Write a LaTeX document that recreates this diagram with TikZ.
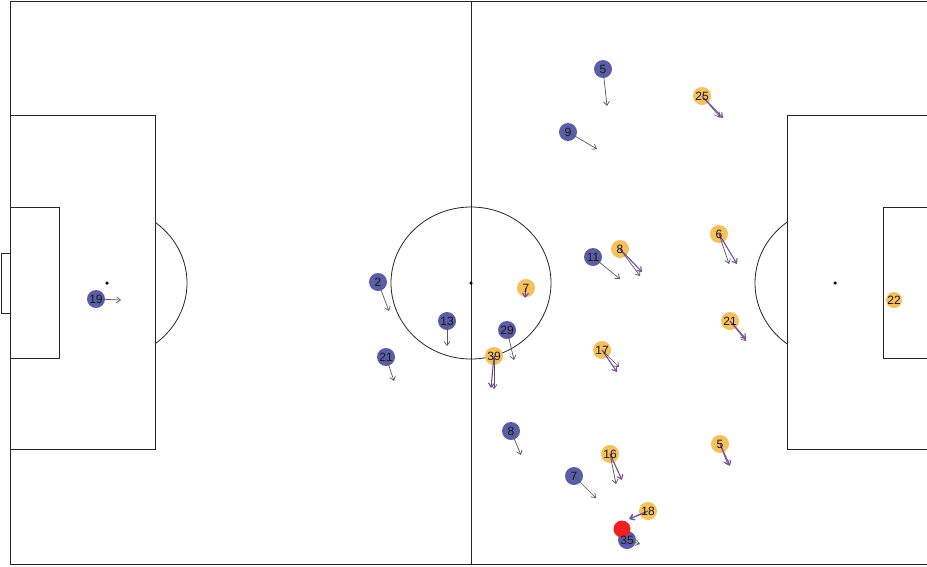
\documentclass[tikz,border=0pt]{standalone}
\usepackage{fontspec}
\setmainfont{Liberation Sans}
\usetikzlibrary{arrows.meta}
\definecolor{homeblue}{HTML}{5A5DA8}
\definecolor{awayyellow}{HTML}{F6C15D}
\definecolor{ballred}{HTML}{EE2020}
\definecolor{runpurple}{HTML}{7A4A9E}
\tikzset{
  pitchline/.style={draw=black!85, line width=0.8pt},
  pitchspot/.style={circle, fill=black, inner sep=0pt, minimum size=3.5pt},
  homeplayer/.style={circle, fill=homeblue, inner sep=0pt, minimum size=18pt},
  awayplayer/.style={circle, fill=awayyellow, inner sep=0pt, minimum size=18pt},
  matchball/.style={circle, fill=ballred, inner sep=0pt, minimum size=17pt},
  shirtnum/.style={inner sep=0pt, font=\fontsize{12}{12}\selectfont, text=black!90},
  grayrun/.style={-{Straight Barb[length=4pt, width=6pt]}, draw=black!65, line width=0.7pt},
  purplerun/.style={-{Straight Barb[length=4pt, width=6pt]}, draw=runpurple, line width=1.1pt},
}
\begin{document}
\begin{tikzpicture}[x=1pt, y=-1pt]
  \clip (0,0) rectangle (927,566);
  \fill[white] (0,0) rectangle (927,566);

  % pitch
  \draw[pitchline] (10,1) rectangle (932,564);
  \draw[pitchline] (471,1) -- (471,564);
  \draw[pitchline] (471,283) ellipse [x radius=80, y radius=76];
  \draw[pitchline] (10,115) rectangle (155,449);
  \draw[pitchline] (10,207) rectangle (59,358);
  \draw[pitchline] (10,253) -- (1,253) -- (1,313) -- (10,313);
  \draw[pitchline] (787,115) rectangle (932,449);
  \draw[pitchline] (883,207) rectangle (932,358);
  \begin{scope}
    \clip (155,0) rectangle (300,566);
    \draw[pitchline] (107,283) ellipse [x radius=80, y radius=76];
  \end{scope}
  \begin{scope}
    \clip (640,0) rectangle (787,566);
    \draw[pitchline] (835,283) ellipse [x radius=80, y radius=76];
  \end{scope}
  \node[pitchspot] (cspot) at (471,283) {};
  \node[pitchspot] (lspot) at (107,283) {};
  \node[pitchspot] (rspot) at (835,283) {};

  % players
  \foreach \p/\x/\y in {h19/96/299, h2/378/282, h13/447/321, h21/386/357,
      h29/507/330, h5/603/69, h9/568/132, h11/593/257, h8/511/431,
      h7/574/476, h35/627/540}
    \node[homeplayer] (\p) at (\x,\y) {};
  \foreach \p/\x/\y in {a25/702/96, a6/719/234, a8/620/249, a7/526/288,
      a39/494/356, a17/602/350, a21/730/321, a5/720/444, a16/610/454,
      a18/648/511}
    \node[awayplayer] (\p) at (\x,\y) {};
  \node[awayplayer, minimum size=16pt] (a22) at (894,300) {};

  % runs
  \foreach \p/\x/\y in {h19/121/300, h2/389/311, h13/447/346, h21/394/381,
      h29/514/360, h5/607/106, h9/597/149, h11/620/279, h8/521/455,
      h7/596/498, h35/640/544, a25/720/117, a6/729/264, a8/640/276,
      a39/494/389, a17/619/367, a21/746/341, a5/728/465, a16/616/484,
      a18/630/519}
  {
    \coordinate (\p-g) at (\x,\y);
    \draw[grayrun] (\p.center) -- (\p-g);
  }
  \foreach \p/\x/\y in {a25/723/118, a6/737/264, a8/642/272, a7/525/298,
      a39/491/388, a17/617/372, a21/746/339, a5/730/466, a16/622/480,
      a18/629/519}
  {
    \coordinate (\p-v) at (\x,\y);
    \draw[purplerun] (\p.center) -- (\p-v);
  }

  % ball
  \node[matchball] (ball) at (622,529) {};

  % numbers
  \foreach \p/\t in {h19/19, h2/2, h13/13, h21/21, h29/29, h5/5, h9/9,
      h11/11, h8/8, h7/7, h35/35, a25/25, a6/6, a8/8, a7/7, a39/39,
      a17/17, a21/21, a5/5, a16/16, a18/18, a22/22}
    \node[shirtnum] (\p-t) at (\p) {\t};
\end{tikzpicture}
\end{document}
